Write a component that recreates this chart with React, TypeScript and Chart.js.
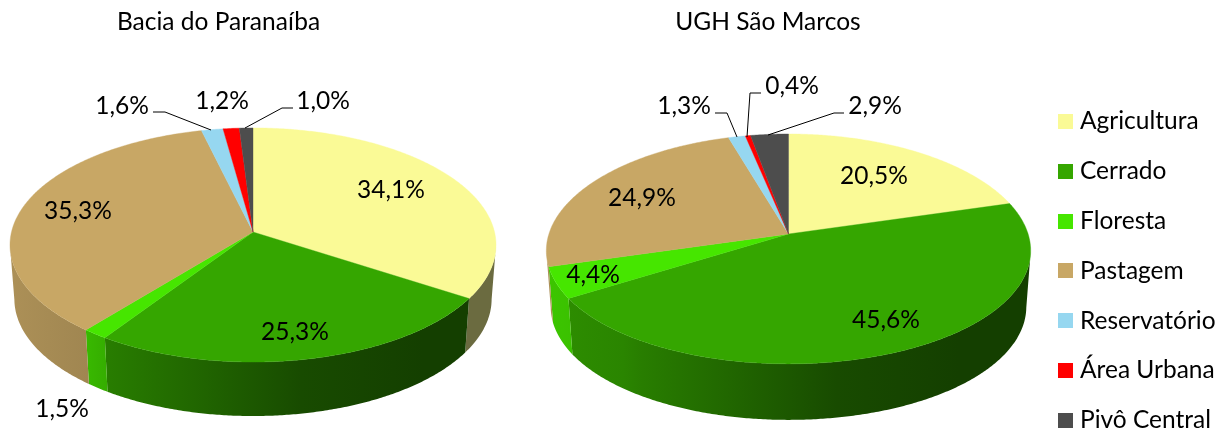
import React, { useEffect, useRef } from "react";
import { Chart, registerables } from "chart.js";

Chart.register(...registerables);

const categories = ["Agricultura", "Cerrado", "Floresta", "Pastagem", "Reservatório", "Área Urbana", "Pivô Central"];
const paranaibaValues = [34.1, 25.3, 1.5, 35.3, 1.6, 1.2, 1.0];
const saoMarcosValues = [20.5, 45.6, 4.4, 24.9, 1.3, 0.4, 2.9];
const sliceColors = ["#FAFA96", "#35A600", "#46E600", "#C8A765", "#96D7F0", "#FF0000", "#4D4D4D"];
const wallBoost = [1.13, 1, 1, 1, 1, 1, 1];

const FONT = "Lato";
const W = 1229;
const H = 432;

const shadeStops: [number, number][] = [
  [0, 0.86], [0.16, 0.8], [0.2, 0.75], [0.4, 0.6], [0.6, 0.45], [0.85, 0.38], [1, 0.38],
];

function shade(hex: string, f: number) {
  const n = parseInt(hex.slice(1), 16);
  const c = (v: number) => Math.min(255, Math.round(v * f));
  return `rgb(${c((n >> 16) & 255)},${c((n >> 8) & 255)},${c(n & 255)})`;
}

type View = {
  cx: number; cy: number; R: number; A: number; k: number; kx: number; depth: number; shrink: number;
  titleX: number; titleY: number;
  labels: [number, number][];
  leaders: ([number, number][] | null)[];
  legend: boolean;
};

const leftView: View = {
  cx: 253, cy: 232, R: 241.5, A: 115.6, k: 0.111, kx: 0.111, depth: 54, shrink: 0.982, titleX: 218.5, titleY: 7,
  labels: [[391, 190], [295, 332], [62, 409], [78, 211], [122, 106], [222, 101], [323, 101]],
  leaders: [null, null, null, null,
    [[153, 112], [165, 112], [211, 130]], null,
    [[293, 108], [282, 108], [245, 128]]],
  legend: false,
};
const rightView: View = {
  cx: 788.5, cy: 234, R: 239.6, A: 113, k: 0.13, kx: 0.145, depth: 56, shrink: 0.982, titleX: 768, titleY: 7,
  labels: [[874, 176], [886, 320], [593, 275], [642, 198], [684, 106], [792, 86], [875, 106]],
  leaders: [null, null, null, null,
    [[715, 113], [727, 113], [737, 137]],
    [[761, 93], [750, 93], [747, 137]],
    [[844, 113], [834, 113], [768, 135]]],
  legend: true,
};

const legendBoxX = 1058;
const legendTextX = 1080;
const legendBoxSize = 15;
const legendTopY = 121.5;
const legendRowGap = 49.8;

const pie3d = {
  id: "pie3d",
  afterLayout(chart: any, _a: any, opts: any) {
    const v: View = opts.view;
    const t = chart.titleBlock;
    if (t) {
      const h = t.bottom - t.top;
      t.left = v.titleX - W / 2;
      t.right = v.titleX + W / 2;
      t.top = v.titleY;
      t.bottom = v.titleY + h;
    }
  },
  beforeDatasetsDraw(chart: any, _a: any, opts: any) {
    const v: View = opts.view;
    const ctx: CanvasRenderingContext2D = chart.ctx;
    const arcs = chart.getDatasetMeta(0).data;
    const top = (a: number): [number, number] => {
      const sy = 1 / (1 - v.k * Math.sin(a));
      const sx = 1 / (1 - v.kx * Math.sin(a));
      return [v.cx + v.R * Math.cos(a) * sx, v.cy + v.A * Math.sin(a) * sy];
    };
    const bot = (a: number): [number, number] => {
      const p = top(a);
      return [v.cx + (p[0] - v.cx) * v.shrink, p[1] + v.depth];
    };
    const xl = v.cx - 243;
    const xr = v.cx + 243;
    const step = Math.PI / 360;
    ctx.save();
    // side walls: only the part in front of the ellipse's widest points
    arcs.forEach((arc: any, idx: number) => {
      const { startAngle, endAngle } = arc.getProps(["startAngle", "endAngle"], true);
      const color = arc.options.backgroundColor;
      const pts: number[] = [];
      for (let a = startAngle; a < endAngle; a += step) pts.push(a);
      pts.push(endAngle);
      const vis = pts.filter((a) => Math.sin(a) >= v.kx);
      if (vis.length < 2) return;
      const g = ctx.createLinearGradient(xl, 0, xr, 0);
      shadeStops.forEach(([p, f]) => g.addColorStop(p, shade(color, f * wallBoost[idx])));
      ctx.beginPath();
      vis.forEach((a, i) => {
        const p = top(a);
        if (i) ctx.lineTo(p[0], p[1]);
        else ctx.moveTo(p[0], p[1]);
      });
      [...vis].reverse().forEach((a) => {
        const p = bot(a);
        ctx.lineTo(p[0], p[1]);
      });
      ctx.closePath();
      ctx.fillStyle = g;
      ctx.fill();
    });
    // top surface
    arcs.forEach((arc: any) => {
      const { startAngle, endAngle } = arc.getProps(["startAngle", "endAngle"], true);
      ctx.beginPath();
      ctx.moveTo(v.cx, v.cy);
      for (let a = startAngle; a < endAngle; a += step) {
        const p = top(a);
        ctx.lineTo(p[0], p[1]);
      }
      const e = top(endAngle);
      ctx.lineTo(e[0], e[1]);
      ctx.closePath();
      ctx.fillStyle = arc.options.backgroundColor;
      ctx.fill();
      ctx.strokeStyle = arc.options.backgroundColor;
      ctx.lineWidth = 0.4;
      ctx.stroke();
    });
    // leaders and data labels
    const values: number[] = chart.data.datasets[0].data;
    ctx.strokeStyle = "#000000";
    ctx.lineWidth = 1;
    v.leaders.forEach((ln) => {
      if (!ln) return;
      ctx.beginPath();
      ln.forEach(([x, y], i) => (i ? ctx.lineTo(x, y) : ctx.moveTo(x, y)));
      ctx.stroke();
    });
    ctx.fillStyle = "#000000";
    ctx.font = `${opts.labelSize}px ${FONT}`;
    ctx.textAlign = "center";
    ctx.textBaseline = "middle";
    values.forEach((val, i) => {
      const [x, y] = v.labels[i];
      ctx.fillText(val.toFixed(1).replace(".", ",") + "%", x, y);
    });
    // legend
    if (v.legend) {
      ctx.textAlign = "left";
      (chart.data.labels as string[]).forEach((name, i) => {
        const y = legendTopY + i * legendRowGap;
        ctx.fillStyle = sliceColors[i];
        ctx.fillRect(legendBoxX, Math.round(y - legendBoxSize / 2), legendBoxSize, legendBoxSize);
        ctx.fillStyle = "#000000";
        ctx.fillText(name, legendTextX, y);
      });
    }
    ctx.restore();
    return false;
  },
};

function makeConfig(title: string, values: number[], view: View): any {
  return {
    type: "pie",
    data: {
      labels: categories,
      datasets: [{ data: values, backgroundColor: sliceColors, borderWidth: 0 }],
    },
    plugins: [pie3d],
    options: {
      responsive: false,
      animation: false,
      plugins: {
        title: {
          display: true,
          text: title,
          color: "#000000",
          font: { family: FONT, size: 24.5, weight: "normal" },
          padding: 0,
        },
        legend: { display: false },
        tooltip: { enabled: false },
        pie3d: { view, labelSize: 24.5 },
      },
    },
  };
}

function PieCanvas(props: { title: string; values: number[]; view: View }) {
  const ref = useRef<HTMLCanvasElement>(null);
  useEffect(() => {
    const chart = new Chart(ref.current!, makeConfig(props.title, props.values, props.view));
    return () => chart.destroy();
  }, []);
  return (
    <canvas
      ref={ref}
      width={W}
      height={H}
      style={{ position: "fixed", left: 0, top: 0, width: W, height: H }}
    />
  );
}

export default function App() {
  return (
    <div style={{ position: "fixed", left: 0, top: 0, width: W, height: H, background: "#ffffff" }}>
      <PieCanvas title="Bacia do Paranaíba" values={paranaibaValues} view={leftView} />
      <PieCanvas title="UGH São Marcos" values={saoMarcosValues} view={rightView} />
    </div>
  );
}
